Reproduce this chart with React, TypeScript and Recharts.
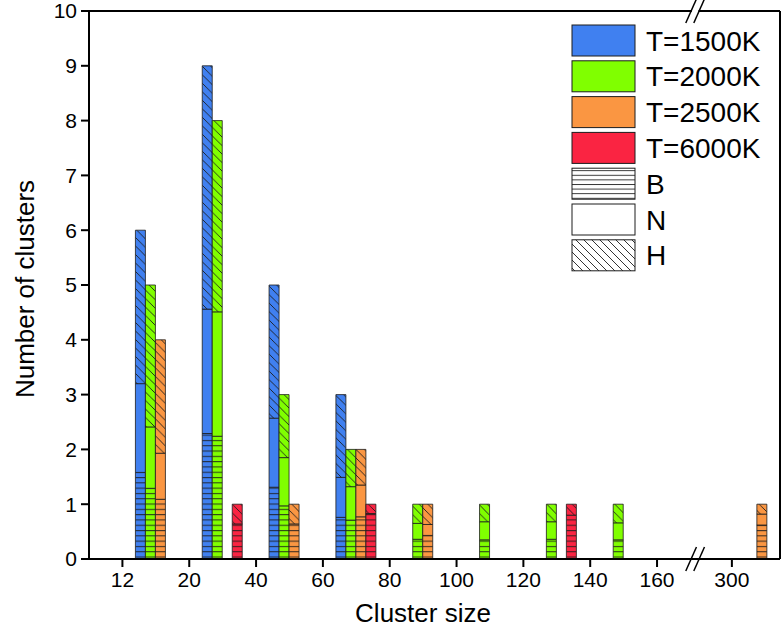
import React from "react";
import { BarChart, Bar, XAxis, YAxis, ReferenceLine } from "recharts";

// x positions on an index scale: ticks sit on bin edges, bars in the middle
const binPos = [0.5, 1.5, 2.5, 3.5, 4.5, 5.5, 6.5, 7.5, 9.5];
const tickPos = [0, 1, 2, 3, 4, 5, 6, 7, 8, 9.12];
const tickLabels = ["12", "20", "40", "60", "80", "100", "120", "140", "160", "300"];
const yTicks = [0, 1, 2, 3, 4, 5, 6, 7, 8, 9, 10];

// B / N / H parts of each bar
const t1500B = [1.58, 2.29, 1.31, 0.76, null, null, null, null, null];
const t1500N = [1.62, 2.27, 1.26, 0.73, null, null, null, null, null];
const t1500H = [2.8, 4.44, 2.43, 1.51, null, null, null, null, null];

const t2000B = [1.29, 2.24, 0.97, 0.71, 0.36, 0.35, 0.36, 0.35, null];
const t2000N = [1.12, 2.27, 0.88, 0.61, 0.29, 0.33, 0.32, 0.31, null];
const t2000H = [2.59, 3.49, 1.15, 0.68, 0.35, 0.32, 0.32, 0.34, null];

const t2500B = [1.09, null, 0.64, 0.77, 0.43, null, null, null, 0.62];
const t2500N = [0.84, null, null, 0.58, 0.2, null, null, null, 0.2];
const t2500H = [2.07, null, 0.36, 0.65, 0.37, null, null, null, 0.18];

const t6000B = [null, 0.64, null, 0.83, null, null, 0.8, null, null];
const t6000N = [null, null, null, null, null, null, null, null, null];
const t6000H = [null, 0.36, null, 0.17, null, null, 0.2, null, null];

const temps = [
  { key: "t1500", name: "T=1500K", color: "#4080F0", B: t1500B, N: t1500N, H: t1500H },
  { key: "t2000", name: "T=2000K", color: "#80FF00", B: t2000B, N: t2000N, H: t2000H },
  { key: "t2500", name: "T=2500K", color: "#FA9642", B: t2500B, N: t2500N, H: t2500H },
  { key: "t6000", name: "T=6000K", color: "#FA2442", B: t6000B, N: t6000N, H: t6000H },
];

const data = binPos.map((pos, i) => {
  const row: Record<string, number | null> = { pos };
  temps.forEach((t) => {
    row[t.key + "B"] = t.B[i];
    row[t.key + "N"] = t.N[i];
    row[t.key + "H"] = t.H[i];
  });
  return row;
});

const FONT = '"Liberation Sans", Arial, Helvetica, sans-serif';
const X_MAX = 9.84;
const BRK = 8.57;
const LINE = "#1c1c1c";

const XTitle = () => (
  <text x={423} y={613} textAnchor="middle" dominantBaseline="central"
    fontSize={26} fontFamily={FONT} fill="#000">Cluster size</text>
);

const YTitle = ({ viewBox }: any) => {
  const cy = viewBox.y + viewBox.height / 2 + 4;
  return (
    <text x={25} y={cy} transform={`rotate(-90, 25, ${cy})`} textAnchor="middle" dominantBaseline="central"
      fontSize={26} fontFamily={FONT} fill="#000">Number of clusters</text>
  );
};

const breakMarks = (y: number) => [
  <ReferenceLine key={`g${y}`} segment={[{ x: BRK - 0.05, y }, { x: BRK + 0.05, y }]} stroke="#fff" strokeWidth={5} ifOverflow="visible" />,
  <ReferenceLine key={`a${y}`} segment={[{ x: BRK - 0.14, y: y - 0.22 }, { x: BRK + 0.02, y: y + 0.22 }]} stroke="#000" strokeWidth={1.5} ifOverflow="visible" />,
  <ReferenceLine key={`b${y}`} segment={[{ x: BRK - 0.02, y: y - 0.22 }, { x: BRK + 0.14, y: y + 0.22 }]} stroke="#000" strokeWidth={1.5} ifOverflow="visible" />,
];

function Legend() {
  const rows = [
    ...temps.map((t) => ({ label: t.name, fill: t.color })),
    { label: "B", fill: "url(#lg-b)" },
    { label: "N", fill: "#fff" },
    { label: "H", fill: "url(#lg-h)" },
  ];
  return (
    <svg width={784} height={637} style={{ position: "absolute", left: 0, top: 0, pointerEvents: "none" }}>
      <defs>
        <pattern id="lg-b" patternUnits="userSpaceOnUse" width={10} height={4.6}>
          <rect width={10} height={4.6} fill="#fff" />
          <line x1={0} y1={0.5} x2={10} y2={0.5} stroke={LINE} strokeWidth={0.9} />
        </pattern>
        <pattern id="lg-h" patternUnits="userSpaceOnUse" width={8} height={8}>
          <rect width={8} height={8} fill="#fff" />
          <path d="M0,0 L8,8 M-2,6 L2,10 M6,-2 L10,2" stroke={LINE} strokeWidth={0.9} />
        </pattern>
      </defs>
      {rows.map((r, i) => (
        <g key={r.label}>
          <rect x={572} y={25 + i * 35.8} width={63} height={31} fill={r.fill} stroke={LINE} strokeWidth={1} />
          <text x={646} y={25 + i * 35.8 + 16} dominantBaseline="central" fontSize={28} fontFamily={FONT} fill="#000">
            {r.label}
          </text>
        </g>
      ))}
    </svg>
  );
}

export default function App() {
  return (
    <div style={{ position: "absolute", left: 0, top: 0, width: 784, height: 637, background: "#fff" }}>
      <BarChart width={784} height={637} data={data} barSize={10} barGap={0}
        margin={{ top: 11, right: 4, bottom: 0, left: 0 }}>
        <defs>
          {temps.map((t) => (
            <pattern key={"b" + t.key} id={"b-" + t.key} patternUnits="userSpaceOnUse" width={10} height={5.3}>
              <rect width={10} height={5.3} fill={t.color} />
              <line x1={0} y1={0.6} x2={10} y2={0.6} stroke={LINE} strokeWidth={0.9} />
            </pattern>
          ))}
          {temps.map((t) => (
            <pattern key={"h" + t.key} id={"h-" + t.key} patternUnits="userSpaceOnUse" width={8.5} height={8.5}>
              <rect width={8.5} height={8.5} fill={t.color} />
              <path d="M0,0 L8.5,8.5 M-2,6.5 L2,10.5 M6.5,-2 L10.5,2" stroke={LINE} strokeWidth={0.9} />
            </pattern>
          ))}
        </defs>
        <XAxis dataKey="pos" type="number" domain={[-0.5, X_MAX]} ticks={tickPos} allowDataOverflow
          tickFormatter={(v: number) => tickLabels[tickPos.indexOf(v)] ?? ""}
          height={78} tickSize={8} tickMargin={5}
          axisLine={{ stroke: "#000", strokeWidth: 2 }} tickLine={{ stroke: "#000", strokeWidth: 2 }}
          tick={{ fill: "#000", fontSize: 21, fontFamily: FONT }}
          label={{ content: XTitle }} />
        <YAxis type="number" domain={[0, 10]} ticks={yTicks} width={89} interval={0}
          tickSize={8} tickMargin={4}
          axisLine={{ stroke: "#000", strokeWidth: 2 }} tickLine={{ stroke: "#000", strokeWidth: 2 }}
          tick={{ fill: "#000", fontSize: 21, fontFamily: FONT }}
          label={{ content: YTitle }} />
        {temps.flatMap((t) => [
          <Bar key={t.key + "B"} dataKey={t.key + "B"} stackId={t.key} fill={`url(#b-${t.key})`}
            stroke={LINE} strokeWidth={0.8} isAnimationActive={false} />,
          <Bar key={t.key + "N"} dataKey={t.key + "N"} stackId={t.key} fill={t.color}
            stroke={LINE} strokeWidth={0.8} isAnimationActive={false} />,
          <Bar key={t.key + "H"} dataKey={t.key + "H"} stackId={t.key} fill={`url(#h-${t.key})`}
            stroke={LINE} strokeWidth={0.8} isAnimationActive={false} />,
        ])}
        <ReferenceLine y={10} stroke="#000" strokeWidth={2} />
        <ReferenceLine x={X_MAX} stroke="#000" strokeWidth={2} />
        {breakMarks(0)}
        {breakMarks(10)}
      </BarChart>
      <Legend />
    </div>
  );
}
